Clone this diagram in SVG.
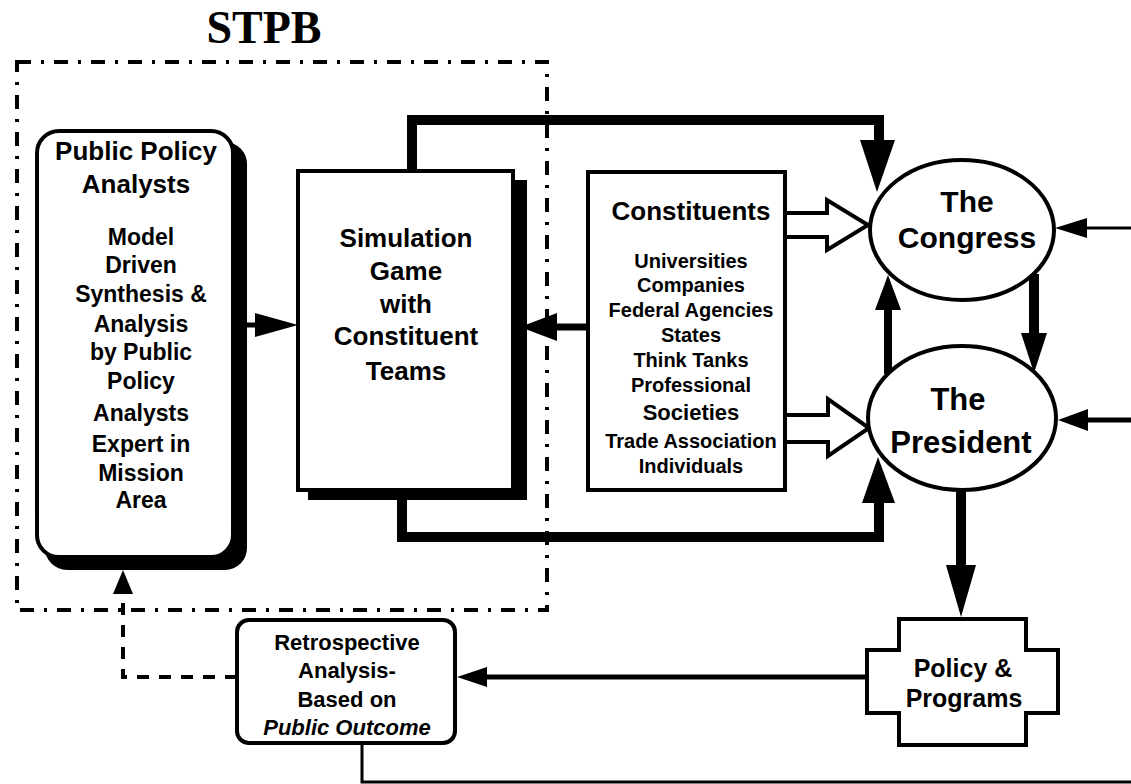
<svg xmlns="http://www.w3.org/2000/svg" width="1131" height="784" viewBox="0 0 1131 784">
<style>
  .t { font-family: "Liberation Sans", Arial, sans-serif; font-weight: bold; fill: #000; text-anchor: middle; }
  .box { fill: #fff; stroke: #000; stroke-width: 4; }
  .shadow { fill: #000; stroke: none; }
  .line { fill: none; stroke: #000; stroke-linecap: butt; stroke-linejoin: miter; }
  .head { fill: #000; stroke: none; }
  .hollow { fill: #fff; stroke: #000; stroke-width: 4; stroke-linejoin: miter; }
  .dashdot { fill: none; stroke: #000; stroke-width: 4; stroke-dasharray: 14 10 3 10; }
  .dash { fill: none; stroke: #000; stroke-width: 4; stroke-dasharray: 12 10; }
</style>
<rect width="1131" height="784" fill="#fff"/>

<text x="264" y="43" style="font-family:'Liberation Serif','Times New Roman',serif;font-weight:bold;font-size:46px;text-anchor:middle">STPB</text>

<g id="stpb-boundary">
  <rect class="dashdot" x="17" y="62" width="530" height="548"/>
</g>

<g id="connectors">
  <!-- top loop: simulation to congress -->
  <path class="line" stroke-width="10" d="M412,171 V120 H879 V142"/>
  <polygon class="head" points="860,140 895,140 877,192"/>
  <!-- bottom loop: simulation to president -->
  <path class="line" stroke-width="10" d="M402,500 V537 H879 V500"/>
  <polygon class="head" points="862,503 895,503 878,457"/>
  <!-- public policy analysts to simulation -->
  <path class="line" stroke-width="5" d="M247,325 H258"/>
  <polygon class="head" points="255,313 255,337 298,325"/>
  <!-- constituents to simulation -->
  <path class="line" stroke-width="7" d="M588,327 H555"/>
  <polygon class="head" points="557,313 557,341 520,327"/>
  <!-- hollow arrows constituents to congress / president -->
  <path class="hollow" d="M785,213 H827 V200 L868,225 L827,250 V237 H785"/>
  <path class="hollow" d="M785,415 H828 V399 L869,428 L828,456 V442 H785"/>
  <!-- congress to president -->
  <path class="line" stroke-width="10" d="M1034,274 V335"/>
  <polygon class="head" points="1021,333 1047,333 1034,373"/>
  <!-- president to congress -->
  <path class="line" stroke-width="8" d="M888,374 V308"/>
  <polygon class="head" points="875,310 901,310 888,275"/>
  <!-- president to policy & programs -->
  <path class="line" stroke-width="10" d="M961,488 V567"/>
  <polygon class="head" points="946,565 976,565 961,617"/>
  <!-- inputs from right -->
  <path class="line" stroke-width="3" d="M1131,228 H1085"/>
  <polygon class="head" points="1087,218 1087,238 1055,228"/>
  <path class="line" stroke-width="5" d="M1131,420 H1086"/>
  <polygon class="head" points="1088,409 1088,431 1058,420"/>
  <!-- policy to retrospective -->
  <path class="line" stroke-width="5" d="M867,677 H485"/>
  <polygon class="head" points="487,667 487,687 457,677"/>
  <!-- retrospective bottom line -->
  <path class="line" stroke-width="3" d="M362,743 V782 H1131"/>
  <!-- retrospective feedback to analysts (dashed) -->
  <path class="dash" d="M237,677 H123 V595"/>
  <polygon class="head" points="113,594 133,594 123,570"/>
</g>

<g id="public-policy-analysts">
  <rect class="shadow" x="45" y="142" width="202" height="428" rx="22"/>
  <rect class="box" x="37" y="131" width="196" height="426" rx="22" stroke-width="3"/>
  <text class="t" x="136" y="160" font-size="26">Public Policy</text>
  <text class="t" x="136" y="193" font-size="26">Analysts</text>
  <text class="t" x="141" y="245" font-size="23">Model</text>
  <text class="t" x="141" y="273" font-size="23">Driven</text>
  <text class="t" x="141" y="302" font-size="23">Synthesis &amp;</text>
  <text class="t" x="141" y="332" font-size="23">Analysis</text>
  <text class="t" x="141" y="360" font-size="23">by Public</text>
  <text class="t" x="141" y="389" font-size="23">Policy</text>
  <text class="t" x="141" y="421" font-size="23">Analysts</text>
  <text class="t" x="141" y="452" font-size="23">Expert in</text>
  <text class="t" x="141" y="481" font-size="23">Mission</text>
  <text class="t" x="141" y="508" font-size="23">Area</text>
</g>

<g id="simulation-game">
  <rect class="shadow" x="308" y="180" width="219" height="320"/>
  <rect class="box" x="298" y="171" width="215" height="319"/>
  <text class="t" x="406" y="247" font-size="26">Simulation</text>
  <text class="t" x="406" y="280" font-size="26">Game</text>
  <text class="t" x="406" y="313" font-size="26">with</text>
  <text class="t" x="406" y="345" font-size="26">Constituent</text>
  <text class="t" x="406" y="380" font-size="26">Teams</text>
</g>

<g id="constituents">
  <rect class="box" x="588" y="172" width="197" height="318"/>
  <text class="t" x="691" y="220" font-size="26">Constituents</text>
  <text class="t" x="691" y="268" font-size="20">Universities</text>
  <text class="t" x="691" y="292" font-size="20">Companies</text>
  <text class="t" x="691" y="317" font-size="20">Federal Agencies</text>
  <text class="t" x="691" y="342" font-size="20">States</text>
  <text class="t" x="691" y="367" font-size="20">Think Tanks</text>
  <text class="t" x="691" y="392" font-size="20">Professional</text>
  <text class="t" x="691" y="420" font-size="22">Societies</text>
  <text class="t" x="691" y="448" font-size="20">Trade Association</text>
  <text class="t" x="691" y="473" font-size="20">Individuals</text>
</g>

<g id="congress">
  <ellipse class="box" cx="962" cy="230" rx="92" ry="70"/>
  <text class="t" x="967" y="212" font-size="30">The</text>
  <text class="t" x="967" y="248" font-size="30">Congress</text>
</g>

<g id="president">
  <ellipse class="box" cx="962" cy="418" rx="94" ry="72"/>
  <text class="t" x="958" y="410" font-size="31">The</text>
  <text class="t" x="961" y="453" font-size="31">President</text>
</g>

<g id="policy-programs">
  <polygon class="box" stroke-width="5" points="899,619 1026,619 1026,650 1058,650 1058,713 1026,713 1026,745 899,745 899,713 867,713 867,650 899,650"/>
  <text class="t" x="963" y="677" font-size="25">Policy &amp;</text>
  <text class="t" x="964" y="707" font-size="25">Programs</text>
</g>

<g id="retrospective-analysis">
  <rect class="box" x="237" y="620" width="218" height="123" rx="12"/>
  <text class="t" x="347" y="650" font-size="22">Retrospective</text>
  <text class="t" x="347" y="678" font-size="22">Analysis-</text>
  <text class="t" x="347" y="707" font-size="22">Based on</text>
  <text class="t" x="347" y="735" font-size="22" font-style="italic">Public Outcome</text>
</g>
</svg>
